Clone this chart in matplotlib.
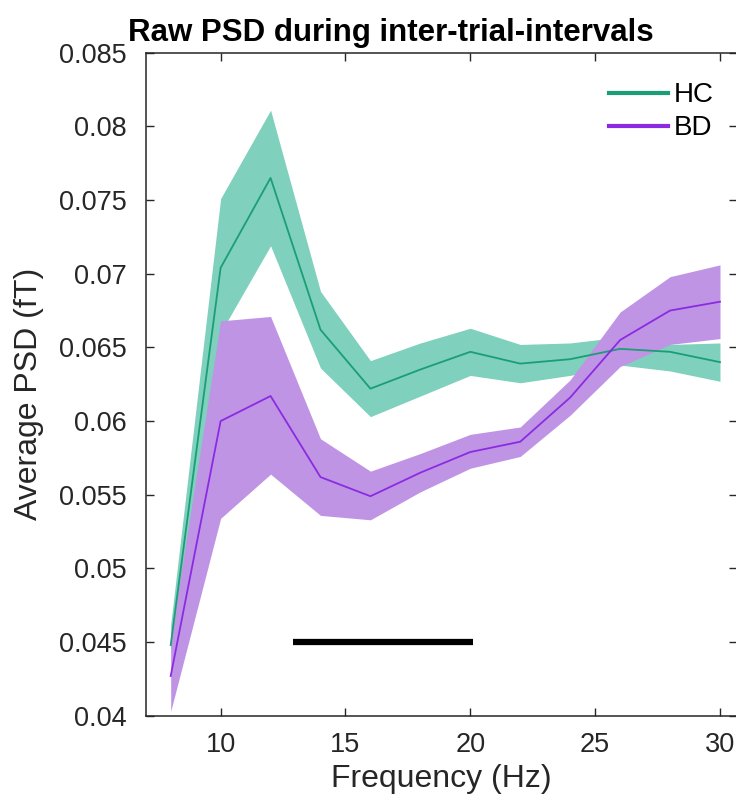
import matplotlib.pyplot as plt
import numpy as np

plt.rcParams['font.family'] = ['Liberation Sans', 'DejaVu Sans']

# Frequencies (Hz) and group PSD curves with their error bands
freqs = [8, 10, 12, 14, 16, 18, 20, 22, 24, 26, 28, 30]

hc_mean = [0.0448, 0.0704, 0.0765, 0.0662, 0.0622, 0.0635, 0.0647, 0.0639, 0.0642, 0.0649, 0.0647, 0.0640]
hc_upper = [0.0462, 0.0751, 0.0811, 0.0688, 0.0641, 0.0653, 0.0663, 0.0652, 0.0653, 0.0657, 0.0652, 0.0653]
hc_lower = [0.0443, 0.0660, 0.0719, 0.0636, 0.0603, 0.0617, 0.0631, 0.0626, 0.0631, 0.0638, 0.0634, 0.0627]

bd_mean = [0.0427, 0.0600, 0.0617, 0.0562, 0.0549, 0.0565, 0.0579, 0.0586, 0.0616, 0.0655, 0.0675, 0.0681]
bd_upper = [0.0452, 0.0668, 0.0671, 0.0588, 0.0566, 0.0578, 0.0591, 0.0596, 0.0628, 0.0674, 0.0698, 0.0706]
bd_lower = [0.0403, 0.0534, 0.0564, 0.0536, 0.0533, 0.0552, 0.0568, 0.0576, 0.0604, 0.0637, 0.0652, 0.0656]

# frequency range of the significant cluster
sig_range = [12.9, 20.1]
sig_level = 0.045

hc_line, hc_fill = '#1b9e77', '#7fd0bc'
bd_line, bd_fill = '#8a2be2', '#c094e4'
txt = '#262626'

fig = plt.figure(figsize=(7.36, 7.98), dpi=100)
ax = fig.add_axes([0.198, 0.103, 0.804, 0.831])

ax.fill_between(freqs, hc_lower, hc_upper, color=hc_fill, lw=0)
ax.fill_between(freqs, bd_lower, bd_upper, color=bd_fill, lw=0)
ax.plot(freqs, hc_mean, color=hc_line, lw=1.3, label='HC')
ax.plot(freqs, bd_mean, color=bd_line, lw=1.3, label='BD')

ax.plot(sig_range, [sig_level, sig_level], color='black', lw=4.5,
        solid_capstyle='butt')

ax.set_xlim(7, 30.7)
ax.set_ylim(0.04, 0.085)
ax.set_xticks([10, 15, 20, 25, 30])
ax.set_yticks(np.arange(0.04, 0.0851, 0.005))
ax.set_yticklabels(['0.04', '0.045', '0.05', '0.055', '0.06', '0.065',
                    '0.07', '0.075', '0.08', '0.085'])

ax.tick_params(direction='in', length=6, width=1, colors=txt,
               labelsize=19.5, top=True, right=True)
ax.tick_params(axis='y', pad=14)
ax.tick_params(axis='x', pad=12)
for sp in ax.spines.values():
    sp.set_color(txt)
    sp.set_linewidth(1.1)

ax.set_xlabel('Frequency (Hz)', fontsize=23, color=txt)
ax.set_ylabel('Average PSD (fT)', fontsize=23, color=txt)
ax.xaxis.set_label_coords(0.5, -0.072)
ax.yaxis.set_label_coords(-0.172, 0.486)

fig.text(0.531, 1 - 41 / 798, 'Raw PSD during inter-trial-intervals',
         ha='center', va='baseline', fontsize=22.5, fontweight='bold')

leg = ax.legend(loc='upper right', bbox_to_anchor=(0.978, 0.972),
                borderaxespad=0, frameon=False, fontsize=20,
                handlelength=2.15, handletextpad=0.18, labelspacing=0.25)
for h in leg.legend_handles:
    h.set_linewidth(3)

fig.savefig('out.png', dpi=100)
